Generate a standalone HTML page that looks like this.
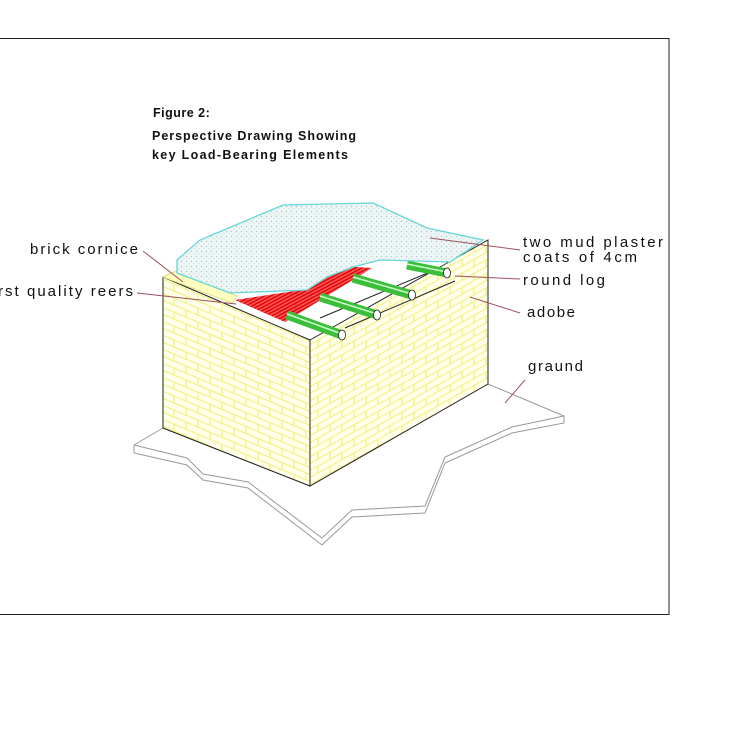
<!DOCTYPE html>
<html><head><meta charset="utf-8"><style>
html,body{margin:0;padding:0;background:#fff;width:750px;height:750px;overflow:hidden}
svg text{font-family:"Liberation Sans",sans-serif;fill:#111}
</style></head><body>
<svg width="750" height="750" viewBox="0 0 750 750">
<defs>
<pattern id="brickL" width="24" height="14" patternUnits="userSpaceOnUse" patternTransform="skewY(22.9)">
<rect width="24" height="14" fill="#ffffea"/>
<path d="M0 0.5H24M0 7.5H24M6 0V7M18 7V14" stroke="#f0f080" stroke-width="1.2" fill="none"/>
</pattern>
<pattern id="brickR" width="24" height="14" patternUnits="userSpaceOnUse" patternTransform="skewY(-29.3)">
<rect width="24" height="14" fill="#ffffea"/>
<path d="M0 0.5H24M0 7.5H24M6 0V7M18 7V14" stroke="#f0f080" stroke-width="1.2" fill="none"/>
</pattern>
<pattern id="dots" width="5" height="5" patternUnits="userSpaceOnUse">
<rect width="5" height="5" fill="#eef6f6"/>
<circle cx="1.5" cy="1.5" r="0.7" fill="#a8c8c8"/><circle cx="4" cy="3.8" r="0.6" fill="#bcd6d6"/>
</pattern>
<pattern id="hatch" width="3" height="3" patternUnits="userSpaceOnUse" patternTransform="rotate(-28)">
<rect width="3" height="3" fill="#ff6060"/><path d="M0 1.5H3" stroke="#e00000" stroke-width="1.5"/>
</pattern>
</defs>
<rect x="-1" y="38.5" width="670" height="576" fill="none" stroke="#222" stroke-width="1"/>
<text x="153" y="117" font-size="12.5" font-weight="bold" letter-spacing="0.5">Figure 2:</text>
<text x="152" y="140" font-size="12.5" font-weight="bold" textLength="204">Perspective Drawing Showing</text>
<text x="152" y="159" font-size="12.5" font-weight="bold" textLength="196">key Load-Bearing Elements</text>
<g fill="#fff" stroke="#999" stroke-width="1">
<polygon points="134,445 134,453 187,465 203,480 248,488 322,545 352,517 425,513 445,463 512,433 564,423 564,416 488,384 310,486 163,428"/>
<polyline fill="none" points="134,445 187,458 203,474 248,482 322,538 352,510 425,506 445,457 512,427 564,416"/>
</g>
<polygon points="163,277 310,340 310,486 163,428" fill="url(#brickL)" stroke="#222"/>
<polygon points="310,340 488,240 488,384 310,486" fill="url(#brickR)" stroke="#222"/>
<polygon points="163,277 178,270 237,296 232,303 163,277" fill="#ffffc0" stroke="#e0e080"/>
<polygon points="232,303 310,338 470,250 420,262 350,265 300,290" fill="#fff" stroke="none"/>
<line x1="320" y1="318" x2="430" y2="272" stroke="#222"/>
<line x1="345" y1="328" x2="455" y2="281" stroke="#222"/>
<polygon points="235,300 285,322 372,268 340,266 308,289" fill="url(#hatch)"/>
<g stroke="#222" stroke-width="0.8">
<g><line x1="287" y1="315" x2="342" y2="335" stroke="#3bbf3b" stroke-width="9"/><line x1="287" y1="314" x2="342" y2="334" stroke="#c8ffc8" stroke-width="1.5"/><ellipse cx="342" cy="335" rx="3.5" ry="5" fill="#fff"/></g>
<g><line x1="320" y1="297" x2="377" y2="315" stroke="#3bbf3b" stroke-width="9"/><line x1="320" y1="296" x2="377" y2="314" stroke="#c8ffc8" stroke-width="1.5"/><ellipse cx="377" cy="315" rx="3.5" ry="5" fill="#fff"/></g>
<g><line x1="353" y1="278" x2="412" y2="295" stroke="#3bbf3b" stroke-width="9"/><line x1="353" y1="277" x2="412" y2="294" stroke="#c8ffc8" stroke-width="1.5"/><ellipse cx="412" cy="295" rx="3.5" ry="5" fill="#fff"/></g>
<g><line x1="407" y1="265" x2="447" y2="273" stroke="#3bbf3b" stroke-width="9"/><line x1="407" y1="264" x2="447" y2="272" stroke="#c8ffc8" stroke-width="1.5"/><ellipse cx="447" cy="273" rx="3.5" ry="5" fill="#fff"/></g>
</g>
<polygon points="177,260 200,240 283,205 373,203 427,228 483,240 450,262 380,260 353,267 327,277 307,290 230,293 177,273" fill="url(#dots)" stroke="#66d6d6" stroke-width="1.3"/>
<g stroke="#a05060" stroke-width="1">
<line x1="143" y1="251" x2="183" y2="282"/>
<line x1="137" y1="293" x2="236" y2="304"/>
<line x1="430" y1="238" x2="520" y2="250"/>
<line x1="455" y1="276" x2="520" y2="279"/>
<line x1="470" y1="297" x2="520" y2="313"/>
<line x1="505" y1="403" x2="525" y2="380"/>
</g>
<g font-size="15">
<text x="30" y="254" textLength="108">brick cornice</text>
<text x="-2" y="296" textLength="135">rst quality reers</text>
<text x="523" y="247" textLength="140">two mud plaster</text>
<text x="523" y="262" textLength="114">coats of 4cm</text>
<text x="523" y="285" textLength="82">round log</text>
<text x="527" y="317" textLength="48">adobe</text>
<text x="528" y="371" textLength="55">graund</text>
</g>
</svg>
</body></html>
